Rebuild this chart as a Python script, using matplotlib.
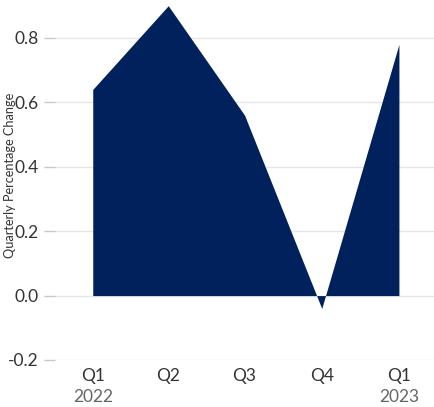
import matplotlib
matplotlib.use("Agg")
import matplotlib.pyplot as plt
import matplotlib.dates as mdates
import matplotlib.transforms as mtrans
import numpy as np
import datetime as dt

plt.rcParams['font.family'] = ['Lato', 'DejaVu Sans']

# data
quarters = ['2022-01-01', '2022-04-01', '2022-07-01', '2022-10-01', '2023-01-01']
quarter_labels = ['Q1', 'Q2', 'Q3', 'Q4', 'Q1']
year_labels = {'2022-01-01': '2022', '2023-01-01': '2023'}
change = [0.64, 0.90, 0.56, -0.04, 0.78]

navy = '#00215b'
dates = [dt.datetime.strptime(q, '%Y-%m-%d') for q in quarters]
x = mdates.date2num(dates)

fig = plt.figure(figsize=(4.35, 4.07), dpi=100)
ax = fig.add_axes([55/435, 1 - 360/407, 380/435, (360 - 5.7)/407])

ax.fill_between(x, change, 0, color=navy, linewidth=0)

ax.set_ylim(-0.2, 0.9)
ax.set_xlim(x[0] - 45, x[-1] + 43)
ax.set_yticks([-0.2, 0.0, 0.2, 0.4, 0.6, 0.8])
ax.set_yticklabels(['-0.2', '0.0', '0.2', '0.4', '0.6', '0.8'])
ax.set_xticks(x)
ax.set_xticklabels(quarter_labels)

ax.grid(axis='y', color='#e6e6e6', linewidth=1)
ax.set_axisbelow(True)
for s in ax.spines.values():
    s.set_visible(False)
ax.tick_params(axis='y', length=8, width=1, color='#c8c8c8', labelsize=12.5,
               labelcolor='#333333', pad=4)
ax.tick_params(axis='x', length=0, labelsize=12.5, labelcolor='#333333', pad=6)

trans = mtrans.blended_transform_factory(ax.transData, ax.transAxes)
for q, xi in zip(quarters, x):
    if q in year_labels:
        ax.text(xi, -0.082, year_labels[q], transform=trans, ha='center', va='top',
                fontsize=12.5, color='#666666')

fig.text(10/435, 0.57, 'Quarterly Percentage Change', rotation=90, ha='center',
         va='center', fontsize=9.2, color='#333333')

fig.savefig('out.png', dpi=100)
